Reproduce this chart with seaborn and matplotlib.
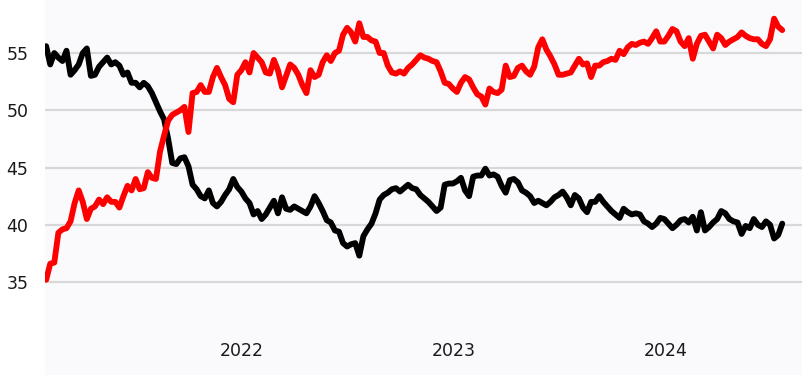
import pandas as pd
import matplotlib
matplotlib.use("Agg")
import matplotlib.pyplot as plt
import seaborn as sns

# Weekly readings, starting late January 2021
start_date = "2021-01-29"

black_values = [
    55.6, 54.0, 55.0, 54.6, 54.3, 55.2, 53.1, 53.5, 54.0, 55.0,
    55.4, 53.0, 53.1, 53.8, 54.2, 54.6, 54.0, 54.2, 53.9, 53.1,
    53.3, 52.4, 52.4, 52.0, 52.4, 52.1, 51.5, 50.7, 49.9, 49.2,
    47.5, 45.4, 45.3, 45.8, 45.9, 45.1, 43.5, 43.1, 42.5, 42.3,
    43.0, 41.9, 41.6, 42.0, 42.6, 43.1, 44.0, 43.3, 42.9, 42.3,
    41.9, 40.9, 41.2, 40.5, 40.9, 41.5, 42.1, 41.0, 42.4, 41.4,
    41.3, 41.6, 41.4, 41.2, 41.0, 41.6, 42.5, 41.9, 41.2, 40.4,
    40.2, 39.5, 39.4, 38.4, 38.1, 38.3, 38.4, 37.3, 39.0, 39.6,
    40.1, 41.0, 42.2, 42.6, 42.8, 43.1, 43.2, 42.9, 43.2, 43.5,
    43.2, 43.1, 42.6, 42.3, 42.0, 41.6, 41.2, 41.5, 43.5, 43.6,
    43.6, 43.8, 44.1, 43.0, 42.5, 44.2, 44.3, 44.3, 44.9, 44.3,
    44.4, 44.2, 43.4, 42.8, 43.9, 44.0, 43.7, 43.0, 42.8, 42.5,
    41.9, 42.1, 41.9, 41.7, 42.0, 42.4, 42.6, 42.9, 42.4, 41.7,
    42.6, 42.3, 41.5, 41.1, 42.0, 42.0, 42.5, 42.0, 41.6, 41.2,
    40.9, 40.6, 41.4, 41.1, 40.9, 41.0, 40.9, 40.3, 40.1, 39.8,
    40.1, 40.6, 40.5, 40.1, 39.7, 40.0, 40.4, 40.5, 40.2, 40.7,
    39.5, 41.1, 39.5, 39.8, 40.2, 40.5, 41.2, 41.0, 40.5, 40.3,
    40.2, 39.2, 39.9, 39.7, 40.5, 40.0, 39.8, 40.3, 40.0, 38.8,
    39.1, 40.1,
]

red_values = [
    35.2, 36.6, 36.7, 39.3, 39.6, 39.7, 40.3, 41.9, 43.0, 42.0,
    40.5, 41.4, 41.6, 42.2, 41.8, 42.4, 42.0, 42.0, 41.5, 42.5,
    43.4, 43.0, 44.0, 43.1, 43.2, 44.6, 44.1, 44.0, 46.4, 47.8,
    49.1, 49.6, 49.8, 50.0, 50.3, 48.1, 51.5, 51.6, 52.2, 51.6,
    51.6, 52.9, 53.7, 52.9, 52.2, 51.0, 50.7, 53.1, 53.5, 54.2,
    53.3, 55.0, 54.6, 54.2, 53.3, 53.2, 54.4, 53.5, 52.0, 53.0,
    54.0, 53.7, 53.1, 52.2, 51.5, 53.5, 52.9, 53.1, 54.2, 54.8,
    54.3, 55.0, 55.2, 56.6, 57.2, 56.8, 56.0, 57.6, 56.4, 56.4,
    56.1, 56.0, 55.0, 55.0, 53.9, 53.3, 53.2, 53.4, 53.2, 53.7,
    54.0, 54.4, 54.8, 54.6, 54.5, 54.3, 54.2, 53.4, 52.4, 52.3,
    51.9, 51.6, 52.4, 52.9, 52.7, 52.0, 51.4, 51.2, 50.5, 51.9,
    51.6, 51.5, 51.8, 53.9, 52.9, 53.0, 53.7, 53.9, 53.4, 53.1,
    53.8, 55.5, 56.2, 55.3, 54.7, 54.0, 53.1, 53.1, 53.2, 53.3,
    53.9, 54.5, 54.0, 54.1, 52.9, 53.9, 53.9, 54.2, 54.3, 54.5,
    54.4, 55.2, 54.9, 55.5, 55.8, 55.7, 55.9, 56.0, 55.8, 56.3,
    56.9, 56.0, 56.0, 56.5, 57.1, 56.9, 56.0, 55.6, 56.3, 54.5,
    55.8, 56.5, 56.6, 56.0, 55.4, 56.6, 56.3, 55.7, 56.0, 56.2,
    56.4, 56.8, 56.5, 56.3, 56.2, 56.2, 55.8, 55.6, 56.2, 58.0,
    57.3, 57.0,
]

y_ticks = [35, 40, 45, 50, 55]
x_tick_labels = ["2022", "2023", "2024"]


def build_frame():
    """Put both series into one long DataFrame."""
    dates = pd.date_range(start_date, periods=len(black_values), freq="7D")
    df = pd.DataFrame({"date": dates, "black": black_values, "red": red_values})
    return df.melt(id_vars="date", var_name="series", value_name="value")


def main():
    df = build_frame()

    sns.set_style("white")
    plt.rcParams["font.family"] = ["DejaVu Sans"]

    fig = plt.figure(figsize=(8.02, 3.75), dpi=100)
    ax = fig.add_axes([45 / 802, 0, 757 / 802, 1])
    ax.set_facecolor("#fafafd")

    sns.lineplot(data=df, x="date", y="value", hue="series",
                 palette={"black": "#000000", "red": "#ff0000"},
                 hue_order=["black", "red"], linewidth=4.2,
                 legend=False, ax=ax)

    ax.set_xlim(pd.Timestamp("2021-01-27"), pd.Timestamp("2024-08-22"))
    ax.set_ylim(26.88, 59.63)

    ax.set_yticks(y_ticks)
    ax.set_yticklabels([str(t) for t in y_ticks])
    ax.set_xticks([pd.Timestamp(f"{y}-01-01") for y in x_tick_labels])
    ax.set_xticklabels(x_tick_labels)

    ax.grid(axis="y", color="#d8d8d8", linewidth=1.6)
    ax.grid(axis="x", visible=False)
    ax.set_axisbelow(True)

    ax.tick_params(axis="y", length=0, pad=12, labelsize=12.5, labelcolor="#1a1a1a")
    ax.tick_params(axis="x", length=0, direction="in", pad=-23.5,
                   labelsize=12.5, labelcolor="#1a1a1a")

    for spine in ax.spines.values():
        spine.set_visible(False)

    ax.set_xlabel("")
    ax.set_ylabel("")

    fig.savefig("out.png", dpi=100, facecolor="white")


if __name__ == "__main__":
    main()
